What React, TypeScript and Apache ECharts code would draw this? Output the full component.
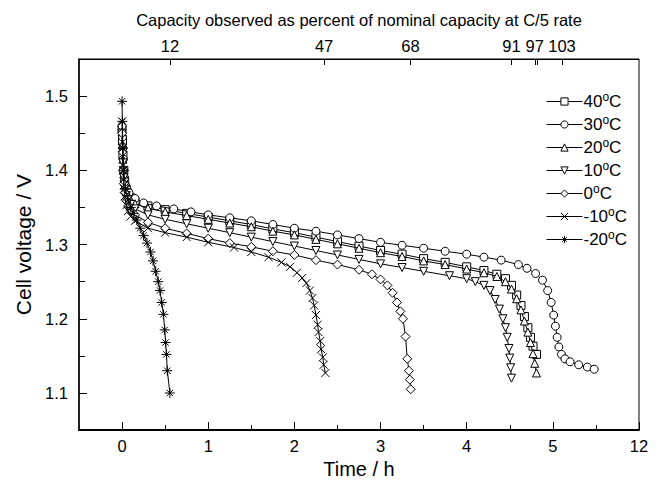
import React, { useEffect, useRef } from "react";
import * as echarts from "echarts";

// ---- axis ticks ----
const xTickHours = [0, 1, 2, 3, 4, 5, 6];
const xTickLabels = ["0", "1", "2", "3", "4", "5", "12"];
const xMinorHours = [0.5, 1.5, 2.5, 3.5, 4.5, 5.5];
const yTickValues = [1.1, 1.2, 1.3, 1.4, 1.5];
const yMinorValues = [1.15, 1.25, 1.35, 1.45];
const capacityTickHours = [0.555, 2.345, 3.347, 4.52, 4.79, 4.815, 5.106];
const capacityLabelHours = [0.555, 2.345, 3.347, 4.52, 4.79, 5.106];
const capacityLabels = ["12", "47", "68", "91", "97", "103"];

// ---- series ----
const temps = ["40", "30", "20", "10", "0", "-10", "-20"];

const t40 = [0, 0.005, 0.01, 0.02, 0.03, 0.05, 0.07, 0.1, 0.15, 0.3, 0.5, 0.75, 1.0, 1.25, 1.5, 1.75, 2.0, 2.25, 2.5, 2.75, 3.0, 3.25, 3.5, 3.75, 4.0, 4.2, 4.35, 4.45, 4.52, 4.58, 4.63, 4.67, 4.71, 4.74, 4.77, 4.81];
const v40 = [1.455, 1.44, 1.42, 1.4, 1.385, 1.374, 1.368, 1.363, 1.358, 1.352, 1.347, 1.342, 1.337, 1.332, 1.327, 1.321, 1.316, 1.31, 1.304, 1.298, 1.292, 1.287, 1.281, 1.276, 1.27, 1.265, 1.26, 1.254, 1.245, 1.232, 1.218, 1.203, 1.188, 1.175, 1.163, 1.152];

const t30 = [0, 0.005, 0.01, 0.015, 0.02, 0.03, 0.04, 0.06, 0.08, 0.15, 0.25, 0.4, 0.6, 0.8, 1.0, 1.25, 1.5, 1.75, 2.0, 2.25, 2.5, 2.75, 3.0, 3.25, 3.5, 3.75, 4.0, 4.2, 4.4, 4.6, 4.7, 4.8, 4.88, 4.94, 4.98, 5.01, 5.03, 5.05, 5.07, 5.1, 5.14, 5.2, 5.3, 5.4, 5.48];
const v30 = [1.46, 1.445, 1.43, 1.415, 1.4, 1.39, 1.38, 1.374, 1.37, 1.362, 1.356, 1.352, 1.348, 1.344, 1.34, 1.336, 1.332, 1.327, 1.322, 1.318, 1.313, 1.308, 1.303, 1.299, 1.295, 1.291, 1.287, 1.283, 1.279, 1.273, 1.268, 1.261, 1.252, 1.238, 1.222, 1.205, 1.19, 1.175, 1.162, 1.152, 1.146, 1.142, 1.138, 1.135, 1.132];

const t20 = [0, 0.005, 0.01, 0.02, 0.03, 0.05, 0.07, 0.1, 0.15, 0.3, 0.5, 0.75, 1.0, 1.25, 1.5, 1.75, 2.0, 2.25, 2.5, 2.75, 3.0, 3.25, 3.5, 3.75, 4.0, 4.2, 4.35, 4.45, 4.52, 4.58, 4.63, 4.67, 4.71, 4.74, 4.77, 4.79, 4.81];
const v20 = [1.452, 1.435, 1.415, 1.395, 1.38, 1.371, 1.365, 1.36, 1.355, 1.349, 1.344, 1.339, 1.334, 1.329, 1.324, 1.318, 1.313, 1.307, 1.301, 1.295, 1.289, 1.284, 1.278, 1.273, 1.267, 1.262, 1.257, 1.25, 1.24, 1.227, 1.212, 1.197, 1.182, 1.168, 1.153, 1.14, 1.127];

const t10 = [0, 0.005, 0.01, 0.02, 0.03, 0.05, 0.07, 0.1, 0.15, 0.3, 0.5, 0.75, 1.0, 1.25, 1.5, 1.75, 2.0, 2.25, 2.5, 2.75, 3.0, 3.25, 3.5, 3.8, 4.0, 4.1, 4.2, 4.27, 4.33, 4.38, 4.42, 4.45, 4.47, 4.49, 4.5, 4.51, 4.52];
const v10 = [1.45, 1.43, 1.41, 1.39, 1.375, 1.366, 1.36, 1.354, 1.348, 1.34, 1.334, 1.328, 1.322, 1.316, 1.31, 1.304, 1.298, 1.292, 1.286, 1.28, 1.274, 1.269, 1.264, 1.258, 1.254, 1.25, 1.245, 1.238, 1.226, 1.213, 1.2, 1.188, 1.175, 1.16, 1.147, 1.134, 1.12];

const t0 = [0, 0.005, 0.01, 0.02, 0.03, 0.05, 0.07, 0.1, 0.15, 0.3, 0.5, 0.75, 1.0, 1.25, 1.5, 1.75, 2.0, 2.25, 2.5, 2.75, 2.9, 3.0, 3.08, 3.14, 3.19, 3.23, 3.26, 3.29, 3.31, 3.33, 3.34, 3.35];
const v0 = [1.45, 1.425, 1.4, 1.382, 1.37, 1.359, 1.352, 1.346, 1.34, 1.33, 1.322, 1.315, 1.308, 1.302, 1.297, 1.291, 1.286, 1.279, 1.273, 1.266, 1.26, 1.253, 1.245, 1.235, 1.222, 1.21, 1.2, 1.176, 1.146, 1.13, 1.118, 1.105];

const tm10 = [0, 0.005, 0.01, 0.02, 0.03, 0.05, 0.07, 0.1, 0.15, 0.3, 0.5, 0.75, 1.0, 1.3, 1.5, 1.7, 1.85, 1.95, 2.03, 2.09, 2.14, 2.18, 2.21, 2.23, 2.25, 2.27, 2.28, 2.3, 2.31, 2.33, 2.34, 2.36];
const vm10 = [1.466, 1.43, 1.4, 1.38, 1.365, 1.353, 1.345, 1.338, 1.332, 1.322, 1.316, 1.31, 1.303, 1.296, 1.29, 1.283, 1.276, 1.27, 1.262, 1.255, 1.248, 1.238, 1.228, 1.218, 1.205, 1.192, 1.182, 1.17, 1.159, 1.148, 1.138, 1.127];

const tm20 = [0, 0.003, 0.01, 0.02, 0.04, 0.07, 0.1, 0.13, 0.17, 0.21, 0.25, 0.29, 0.33, 0.36, 0.39, 0.42, 0.44, 0.46, 0.48, 0.495, 0.505, 0.515, 0.525, 0.555];
const vm20 = [1.493, 1.466, 1.43, 1.4, 1.375, 1.36, 1.35, 1.342, 1.333, 1.322, 1.312, 1.302, 1.29, 1.278, 1.264, 1.25, 1.238, 1.222, 1.206, 1.185, 1.168, 1.152, 1.13, 1.1];

const seriesTimes = [t40, t30, t20, t10, t0, tm10, tm20];
const seriesVolts = [v40, v30, v20, v10, v0, vm10, vm20];

const crossPath = "path://M0 0 L10 10 M10 0 L0 10";
const starPath = "path://M5 0 L5 10 M0 5 L10 5 M1.8 1.8 L8.2 8.2 M8.2 1.8 L1.8 8.2";
const symbols = ["rect", "circle", "triangle", "triangle", "diamond", crossPath, starPath];
const rotations = [0, 0, 0, 180, 0, 0, 0];
const sizes = [8, 8, 8, 8, 9, 8, 10];

const FONT = "'Liberation Sans', Arial, sans-serif";

export default function App() {
  const ref = useRef<HTMLDivElement>(null);
  useEffect(() => {
    document.body.style.margin = "0";
    if (!ref.current) return;
    const chart = echarts.init(ref.current, null, { renderer: "svg" });
    const series = temps.map((name, i) => ({
      name: name + "°C",
      type: "line",
      xAxisIndex: 0,
      yAxisIndex: 0,
      data: seriesTimes[i].map((t, j) => [t, seriesVolts[i][j]]),
      symbol: symbols[i],
      symbolRotate: rotations[i],
      symbolSize: sizes[i],
      showSymbol: true,
      showAllSymbol: true,
      lineStyle: { color: "#000", width: 1 },
      itemStyle: { color: "#fff", borderColor: "#000", borderWidth: 1 },
      emphasis: { disabled: true },
      z: 2 + i,
    }));
    chart.setOption({
      animation: false,
      textStyle: { fontFamily: FONT, color: "#000" },
      grid: { left: 79, right: 25, top: 59, bottom: 52, show: true, borderColor: "#000", borderWidth: 1 },
      legend: {
        orient: "vertical",
        left: 541,
        top: 86,
        itemWidth: 36,
        itemHeight: 9,
        itemGap: 2,
        data: temps.map((t) => t + "°C"),
        lineStyle: { color: "#000", width: 1 },
        itemStyle: { color: "#fff", borderColor: "#000", borderWidth: 1 },
        formatter: (n: string) => "{n|" + n.replace("°C", "") + "}{s|o}{n|C}",
        textStyle: {
          fontFamily: FONT,
          color: "#000",
          padding: [0, 0, 0, -4],
          rich: {
            n: { fontSize: 17, fontFamily: FONT, color: "#000", lineHeight: 18 },
            s: { fontSize: 12, fontFamily: FONT, color: "#000", lineHeight: 18, padding: [0, 0, 9, 0] },
          },
        },
      },
      xAxis: [
        {
          type: "value",
          position: "bottom",
          min: -0.5,
          max: 6,
          name: "Time / h",
          nameLocation: "middle",
          nameGap: 27,
          nameTextStyle: { fontSize: 20, fontFamily: FONT, color: "#000" },
          axisLine: { show: true, onZero: false, lineStyle: { color: "#000", width: 2 } },
          axisTick: { show: true, inside: true, length: 8, customValues: xTickHours, lineStyle: { color: "#000" } },
          axisLabel: {
            customValues: xTickHours,
            fontSize: 16.5,
            margin: 7,
            color: "#000",
            fontFamily: FONT,
            formatter: (v: number) => xTickLabels[xTickHours.findIndex((h) => Math.abs(h - v) < 1e-6)] ?? "",
          },
          splitLine: { show: false },
        },
        {
          type: "value",
          position: "bottom",
          min: -0.5,
          max: 6,
          axisLine: { show: false, onZero: false },
          axisTick: { show: true, inside: true, length: 5, customValues: xMinorHours, lineStyle: { color: "#000" } },
          axisLabel: { show: false },
          splitLine: { show: false },
        },
        {
          type: "value",
          position: "top",
          min: -0.5,
          max: 6,
          name: "Capacity observed as percent of nominal capacity at C/5 rate",
          nameLocation: "middle",
          nameGap: 31,
          nameTextStyle: { fontSize: 16.5, fontFamily: FONT, color: "#000" },
          axisLine: { show: true, onZero: false, lineStyle: { color: "#000", width: 1 } },
          axisTick: { show: true, inside: true, length: 6, customValues: capacityTickHours, lineStyle: { color: "#000" } },
          axisLabel: {
            customValues: capacityLabelHours,
            fontSize: 16.5,
            margin: 5,
            color: "#000",
            fontFamily: FONT,
            formatter: (v: number) => capacityLabels[capacityLabelHours.findIndex((h) => Math.abs(h - v) < 1e-6)] ?? "",
          },
          splitLine: { show: false },
        },
      ],
      yAxis: [
        {
          type: "value",
          position: "left",
          min: 1.05,
          max: 1.55,
          name: "Cell voltage / V",
          nameLocation: "middle",
          nameGap: 38,
          nameTextStyle: { fontSize: 21, fontFamily: FONT, color: "#000" },
          axisLine: { show: true, onZero: false, lineStyle: { color: "#000", width: 1.5 } },
          axisTick: { show: true, inside: true, length: 8, customValues: yTickValues, lineStyle: { color: "#000" } },
          axisLabel: {
            customValues: yTickValues,
            fontSize: 16.5,
            margin: 11,
            color: "#000",
            fontFamily: FONT,
            formatter: (v: number) => v.toFixed(1),
          },
          splitLine: { show: false },
        },
        {
          type: "value",
          position: "left",
          min: 1.05,
          max: 1.55,
          axisLine: { show: false, onZero: false },
          axisTick: { show: true, inside: true, length: 6, customValues: yMinorValues, lineStyle: { color: "#000" } },
          axisLabel: { show: false },
          splitLine: { show: false },
        },
      ],
      series,
    });
    return () => chart.dispose();
  }, []);
  return <div ref={ref} style={{ width: 664, height: 484 }} />;
}
